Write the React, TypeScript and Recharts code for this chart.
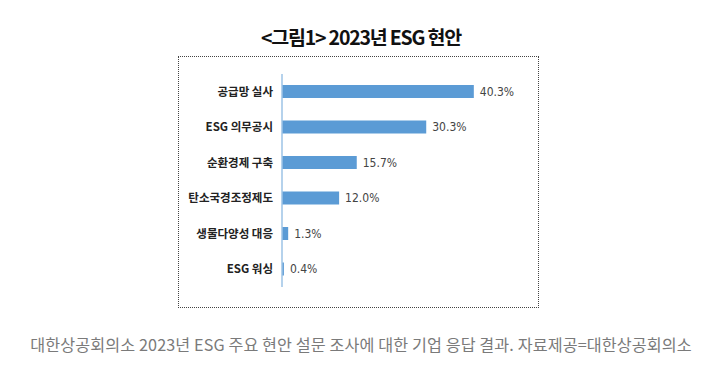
import React from "react";
import { BarChart, Bar, XAxis, YAxis, LabelList } from "recharts";

const categories = ["공급망 실사", "ESG 의무공시", "순환경제 구축", "탄소국경조정제도", "생물다양성 대응", "ESG 워싱"];
const values = [40.3, 30.3, 15.7, 12.0, 1.3, 0.4];
const valueLabels = ["40.3%", "30.3%", "15.7%", "12.0%", "1.3%", "0.4%"];

const data = categories.map((c, i) => ({ name: c, value: values[i], label: valueLabels[i] }));

const KFONT = "'Noto Sans CJK KR', 'Noto Sans', sans-serif";

const CatTick = (props: any) => {
  const { x, y, payload } = props;
  return (
    <text
      x={x}
      y={y}
      dx={3}
      dy={4}
      textAnchor="end"
      fontFamily={KFONT}
      fontSize={11.5}
      fontWeight={700}
      fill="#222"
    >
      {payload.value}
    </text>
  );
};

export default function App() {
  return (
    <div style={{ position: "absolute", left: 0, top: 0, width: 722, height: 367, background: "#fff", overflow: "hidden" }}>
      <div
        style={{
          position: "absolute",
          left: 0,
          width: 722,
          top: 24,
          textAlign: "center",
          fontFamily: KFONT,
          fontSize: 19.5,
          fontWeight: 700,
          letterSpacing: -1.2,
          color: "#111",
          lineHeight: "26px",
        }}
      >
        &lt;그림1&gt; 2023년 ESG 현안
      </div>
      <div
        style={{
          position: "absolute",
          left: 178,
          top: 56,
          width: 359,
          height: 250,
          border: "1px dotted #444",
        }}
      />
      <div style={{ position: "absolute", left: 178, top: 56 }}>
        <BarChart
          width={360}
          height={251}
          data={data}
          layout="vertical"
          margin={{ top: 18, right: 18, bottom: 20, left: 0 }}
          barCategoryGap={0}
        >
          <XAxis type="number" hide domain={[0, 50]} />
          <YAxis
            type="category"
            dataKey="name"
            width={104}
            axisLine={{ stroke: "#9DC3E6", strokeWidth: 1.5 }}
            tickLine={false}
            tickMargin={6}
            tick={<CatTick />}
            interval={0}
          />
          <Bar dataKey="value" fill="#5B9BD5" barSize={13} isAnimationActive={false}>
            <LabelList
              dataKey="label"
              position="right"
              offset={6}
              style={{ fontFamily: "'Liberation Sans Narrow', 'DejaVu Sans Condensed', sans-serif", fontSize: 12, fill: "#444" }}
            />
          </Bar>
        </BarChart>
      </div>
      <div
        style={{
          position: "absolute",
          left: 0,
          width: 722,
          top: 333,
          textAlign: "center",
          fontFamily: KFONT,
          fontSize: 16.2,
          color: "#7a7a7a",
          letterSpacing: 0.1,
          lineHeight: "22px",
        }}
      >
        대한상공회의소 2023년 ESG 주요 현안 설문 조사에 대한 기업 응답 결과. 자료제공=대한상공회의소
      </div>
    </div>
  );
}
